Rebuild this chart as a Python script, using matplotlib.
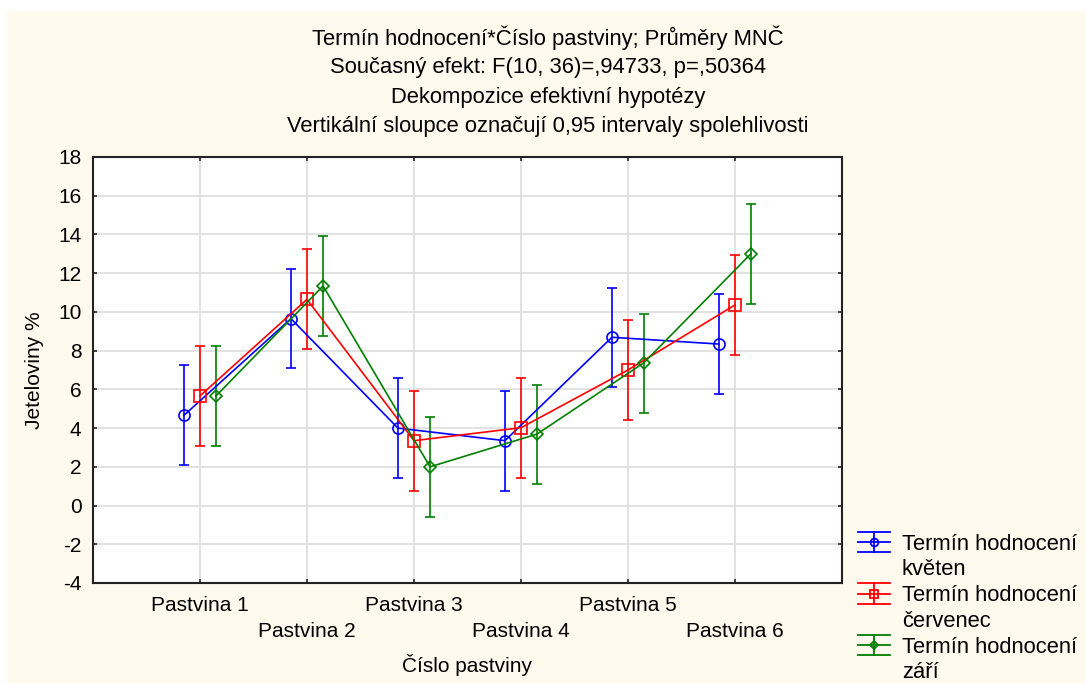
import matplotlib
matplotlib.use("Agg")
import matplotlib.pyplot as plt
from matplotlib.lines import Line2D
from matplotlib.patches import Rectangle
from matplotlib.legend_handler import HandlerBase
import numpy as np

plt.rcParams['font.family'] = ['Liberation Sans', 'DejaVu Sans']
plt.rcParams['axes.unicode_minus'] = False

categories = ["Pastvina 1", "Pastvina 2", "Pastvina 3", "Pastvina 4", "Pastvina 5", "Pastvina 6"]
series_names = ["Termín hodnocení\nkvěten", "Termín hodnocení\nčervenec", "Termín hodnocení\nzáří"]

kveten_mean = [4.66, 9.65, 4.00, 3.35, 8.69, 8.34]
kveten_low = [2.09, 7.08, 1.42, 0.76, 6.10, 5.76]
kveten_high = [7.24, 12.23, 6.58, 5.93, 11.25, 10.91]

cervenec_mean = [5.66, 10.65, 3.35, 4.02, 7.00, 10.36]
cervenec_low = [3.09, 8.08, 0.76, 1.42, 4.43, 7.76]
cervenec_high = [8.24, 13.25, 5.93, 6.60, 9.58, 12.92]

zari_mean = [5.66, 11.34, 2.00, 3.69, 7.38, 13.01]
zari_low = [3.09, 8.75, -0.58, 1.10, 4.76, 10.42]
zari_high = [8.24, 13.90, 4.59, 6.24, 9.91, 15.59]

title_lines = [
    "Termín hodnocení*Číslo pastviny; Průměry MNČ",
    "Současný efekt: F(10, 36)=,94733, p=,50364",
    "Dekompozice efektivní hypotézy",
    "Vertikální sloupce označují 0,95 intervaly spolehlivosti",
]

colors = ["#0000FF", "#FF0000", "#008000"]
markers = ["o", "s", "D"]
msizes = [8.0, 8.0, 6.0]
offsets = [-0.15, 0.0, 0.15]

W, H = 1086, 684
fig = plt.figure(figsize=(W / 100, H / 100), dpi=100)
fig.patch.set_facecolor("white")
fig.patches.append(Rectangle((7 / W, 1 - 683 / H), (W - 7) / W, (683 - 11) / H,
                             transform=fig.transFigure, facecolor="#FFF9EE",
                             edgecolor="none", zorder=-10))

ax_l, ax_r, ax_t, ax_b = 93, 842, 157, 583
ax = fig.add_axes([ax_l / W, 1 - ax_b / H, (ax_r - ax_l) / W, (ax_b - ax_t) / H])
ax.set_facecolor("white")

x = np.arange(1, len(categories) + 1)
data = [(kveten_mean, kveten_low, kveten_high),
        (cervenec_mean, cervenec_low, cervenec_high),
        (zari_mean, zari_low, zari_high)]

for (m, lo, hi), c, mk, ms, off in zip(data, colors, markers, msizes, offsets):
    m = np.array(m); lo = np.array(lo); hi = np.array(hi)
    yerr = np.vstack([m - lo, hi - m])
    ax.errorbar(x + off, m, yerr=yerr, color=c, marker=mk, markersize=ms,
                markerfacecolor="none", markeredgecolor=c, markeredgewidth=1.2,
                linewidth=1.2, elinewidth=1.2, capsize=3.6, capthick=1.2, zorder=3)

ax.set_xlim(0, 7)
ax.set_ylim(-4, 18)
ax.set_yticks(np.arange(-4, 19, 2))
ax.set_xticks(x)
ax.set_xticklabels(categories)
ax.grid(True, color="#DDDDDD", linewidth=1.2, zorder=0)
ax.set_axisbelow(True)
for s in ax.spines.values():
    s.set_linewidth(1.5)
    s.set_color("#222222")
ax.tick_params(direction="in", length=3, width=1.2, top=True, right=True,
               labelsize=15, colors="#222222", labelcolor="black")
ax.tick_params(axis="y", pad=8.2)
for i, t in enumerate(ax.xaxis.get_major_ticks()):
    t.set_pad(9.6 if i % 2 == 0 else 28.2)

ax.set_xlabel("Číslo pastviny", fontsize=15)
ax.xaxis.label.set_va("center")
ax.xaxis.set_label_coords(0.5, -(665 - ax_b) / (ax_b - ax_t))
ax.set_ylabel("Jeteloviny %", fontsize=15)
ax.yaxis.label.set_va("center")
ax.yaxis.set_label_coords(-(ax_l - 35) / (ax_r - ax_l), 0.5)

for i, line in enumerate(title_lines):
    fig.text(548 / W, 1 - (38 + i * 29.5) / H, line, ha="center", va="center", fontsize=15.8)


class HandlerEB(HandlerBase):
    def create_artists(self, legend, orig_handle, xdescent, ydescent, width, height,
                       fontsize, trans):
        c = orig_handle.get_color()
        mk = orig_handle.get_marker()
        ms = orig_handle.get_markersize() * 0.7
        shift = 11.0
        y = height / 2 - ydescent + shift
        x0 = -xdescent
        x1 = x0 + width
        xc = (x0 + x1) / 2
        cap = 7.3
        lw = 1.3
        arts = [
            Line2D([x0, x1], [y, y], color=c, lw=lw),
            Line2D([x0, x1], [y + cap, y + cap], color=c, lw=lw),
            Line2D([x0, x1], [y - cap, y - cap], color=c, lw=lw),
            Line2D([xc, xc], [y - cap, y + cap], color=c, lw=lw),
            Line2D([xc], [y], marker=mk, markersize=ms, markerfacecolor="none",
                   markeredgecolor=c, markeredgewidth=lw, linestyle="none"),
        ]
        for a in arts:
            a.set_transform(trans)
        return arts


handles = [Line2D([], [], color=c, marker=mk, markersize=ms) for c, mk, ms in zip(colors, markers, msizes)]
leg = fig.legend(handles, series_names, loc="upper left",
                 bbox_to_anchor=(858 / W, 1 - 534 / H), frameon=False,
                 fontsize=15.8, handlelength=1.45, handletextpad=0.55,
                 labelspacing=0.22, borderpad=0, borderaxespad=0,
                 handler_map={Line2D: HandlerEB()})
for t in leg.get_texts():
    t.set_linespacing(1.28)

fig.savefig("out.png", dpi=100, facecolor=fig.get_facecolor())
